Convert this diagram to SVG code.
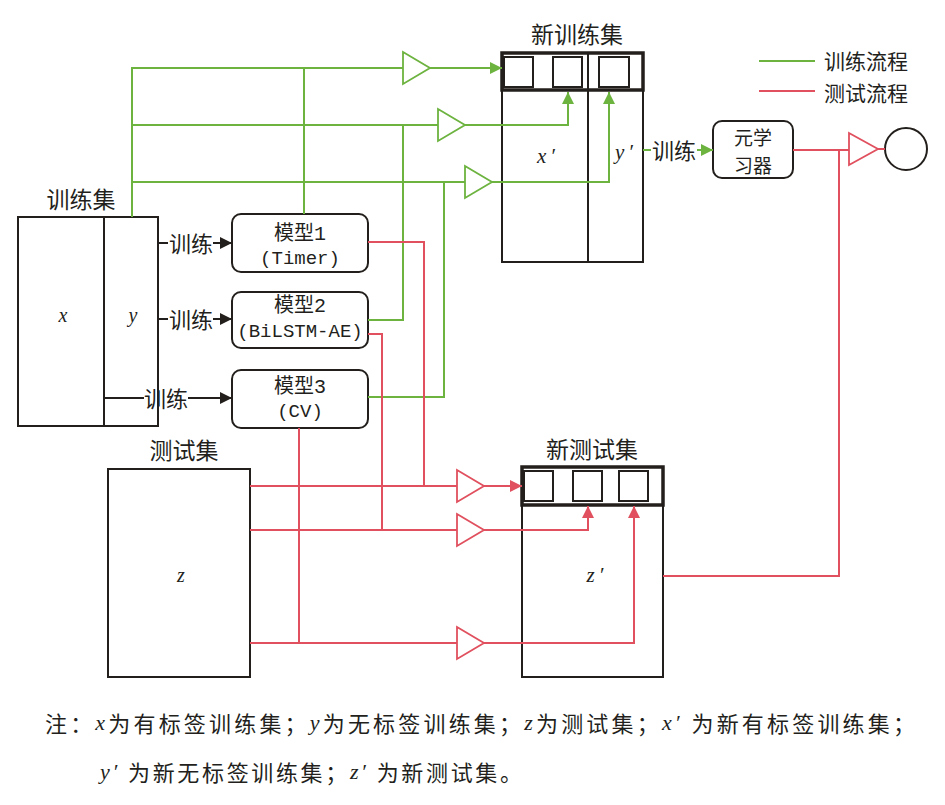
<svg xmlns="http://www.w3.org/2000/svg" width="945" height="805" viewBox="0 0 945 805">
<style>
.box{fill:#fff;stroke:#231f1c;stroke-width:2}
.hdr{fill:none;stroke:#231f1c;stroke-width:3.5}
.sq{fill:#fff;stroke:#231f1c;stroke-width:2}
.g{fill:none;stroke:#6db33f;stroke-width:2}
.r{fill:none;stroke:#e0505e;stroke-width:2}
.k{fill:none;stroke:#231f1c;stroke-width:2}
.tg{fill:#fff;stroke:#6db33f;stroke-width:1.8}
.tr{fill:#fff;stroke:#e0505e;stroke-width:1.8}
.cn{font-family:"Noto Sans CJK SC","Noto Sans",sans-serif;fill:#231f1c;dominant-baseline:central}
.mono{font-family:"Liberation Mono","Noto Sans CJK SC",monospace;fill:#231f1c;dominant-baseline:central}
.it{font-family:"Liberation Serif",serif;font-style:italic;fill:#231f1c;dominant-baseline:central}
</style>
<defs>
<marker id="ag" viewBox="0 0 12 12" refX="12" refY="6" markerWidth="12" markerHeight="12" markerUnits="userSpaceOnUse" orient="auto"><path d="M0,0 L12,6 L0,12 z" fill="#6db33f"/></marker>
<marker id="ar" viewBox="0 0 12 12" refX="12" refY="6" markerWidth="12" markerHeight="12" markerUnits="userSpaceOnUse" orient="auto"><path d="M0,0 L12,6 L0,12 z" fill="#e0505e"/></marker>
<marker id="ak" viewBox="0 0 12 12" refX="12" refY="6" markerWidth="12" markerHeight="12" markerUnits="userSpaceOnUse" orient="auto"><path d="M0,0 L12,6 L0,12 z" fill="#231f1c"/></marker>
</defs>
<rect width="945" height="805" fill="#fff"/>

<g id="train-set">
<text class="cn" x="81" y="198" font-size="23" text-anchor="middle">训练集</text>
<rect class="box" x="18" y="217" width="140" height="209"/>
<line class="k" x1="104" y1="217" x2="104" y2="426"/>
<text class="it" x="63" y="315" font-size="20" text-anchor="middle">x</text>
<text class="it" x="133" y="315" font-size="20" text-anchor="middle">y</text>
</g>

<g id="model1">
<rect class="box" x="232" y="214" width="136" height="58" rx="9"/>
<text class="mono" x="300" y="234" font-size="20" text-anchor="middle">模型1</text>
<text class="mono" x="300" y="259" font-size="19" text-anchor="middle">(Timer)</text>
</g>
<g id="model2">
<rect class="box" x="232" y="292" width="136" height="56" rx="9"/>
<text class="mono" x="300" y="306" font-size="20" text-anchor="middle">模型2</text>
<text class="mono" x="300" y="332" font-size="19" text-anchor="middle">(BiLSTM-AE)</text>
</g>
<g id="model3">
<rect class="box" x="232" y="370" width="136" height="58" rx="9"/>
<text class="mono" x="300" y="387" font-size="20" text-anchor="middle">模型3</text>
<text class="mono" x="300" y="412" font-size="19" text-anchor="middle">(CV)</text>
</g>

<g id="test-set">
<text class="cn" x="184" y="449" font-size="23" text-anchor="middle">测试集</text>
<rect class="box" x="108" y="469" width="142" height="208"/>
<text class="it" x="181" y="575" font-size="20" text-anchor="middle">z</text>
</g>

<g id="new-train-set">
<text class="cn" x="577" y="33" font-size="23" text-anchor="middle">新训练集</text>
<rect class="box" x="502" y="53" width="141" height="209"/>
<line class="k" x1="588" y1="53" x2="588" y2="262"/>
<rect class="sq" x="504" y="57" width="29" height="30"/>
<rect class="sq" x="553" y="57" width="29" height="30"/>
<rect class="sq" x="599" y="57" width="30" height="30"/>
<rect class="hdr" x="502" y="53" width="141" height="37"/>
<text class="it" x="546" y="156" font-size="21" text-anchor="middle">x<tspan dx="4">′</tspan></text>
<text class="it" x="624" y="152" font-size="21" text-anchor="middle">y<tspan dx="4">′</tspan></text>
</g>

<g id="new-test-set">
<text class="cn" x="592" y="448" font-size="23" text-anchor="middle">新测试集</text>
<rect class="box" x="522" y="467" width="141" height="210"/>
<rect class="sq" x="524" y="471" width="29" height="30"/>
<rect class="sq" x="573" y="471" width="29" height="30"/>
<rect class="sq" x="619" y="471" width="29" height="30"/>
<rect class="hdr" x="522" y="467" width="141" height="38"/>
<text class="it" x="595" y="575" font-size="21" text-anchor="middle">z<tspan dx="4">′</tspan></text>
</g>

<g id="meta-learner">
<rect class="box" x="713" y="121" width="80" height="57" rx="9"/>
<text class="cn" x="753" y="136" font-size="19" text-anchor="middle">元学</text>
<text class="cn" x="753" y="164" font-size="19" text-anchor="middle">习器</text>
</g>

<g id="output">
<circle cx="906" cy="149" r="21" fill="#fff" stroke="#231f1c" stroke-width="2"/>
</g>

<g id="legend">
<line class="g" x1="759" y1="61" x2="815" y2="61"/>
<text class="cn" x="824" y="60" font-size="21">训练流程</text>
<line class="r" x1="759" y1="91" x2="815" y2="91"/>
<text class="cn" x="824" y="92" font-size="21">测试流程</text>
</g>

<g id="connectors">
<line class="k" x1="158" y1="243" x2="168" y2="243"/>
<text class="cn" x="191" y="242" font-size="22" text-anchor="middle">训练</text>
<line class="k" x1="213" y1="243" x2="232" y2="243" marker-end="url(#ak)"/>
<line class="k" x1="158" y1="319" x2="168" y2="319"/>
<text class="cn" x="191" y="318" font-size="22" text-anchor="middle">训练</text>
<line class="k" x1="213" y1="319" x2="232" y2="319" marker-end="url(#ak)"/>
<line class="k" x1="104" y1="398" x2="144" y2="398"/>
<text class="cn" x="166" y="397" font-size="22" text-anchor="middle">训练</text>
<line class="k" x1="188" y1="398" x2="232" y2="398" marker-end="url(#ak)"/>

<path class="g" d="M132,217 V68 H403"/>
<line class="g" x1="132" y1="125" x2="438" y2="125"/>
<line class="g" x1="132" y1="182" x2="465" y2="182"/>
<line class="g" x1="304" y1="68" x2="304" y2="214"/>
<path class="g" d="M368,320 H403 V125"/>
<path class="g" d="M368,397 H444 V182"/>
<polygon class="tg" points="403,52 430,68 403,84"/>
<polygon class="tg" points="438,109 465,125 438,141"/>
<polygon class="tg" points="465,166 492,182 465,198"/>
<line class="g" x1="430" y1="68" x2="502" y2="68" marker-end="url(#ag)"/>
<path class="g" d="M465,125 H568 V92" marker-end="url(#ag)"/>
<path class="g" d="M492,182 H609 V92" marker-end="url(#ag)"/>
<line class="g" x1="643" y1="150" x2="651" y2="150"/>
<text class="cn" x="674" y="149" font-size="22" text-anchor="middle">训练</text>
<line class="g" x1="697" y1="150" x2="713" y2="150" marker-end="url(#ag)"/>

<path class="r" d="M368,242 H424 V486"/>
<path class="r" d="M368,334 H382 V530"/>
<line class="r" x1="299" y1="428" x2="299" y2="643"/>
<line class="r" x1="250" y1="486" x2="457" y2="486"/>
<line class="r" x1="250" y1="530" x2="457" y2="530"/>
<line class="r" x1="250" y1="643" x2="457" y2="643"/>
<polygon class="tr" points="457,470 484,486 457,502"/>
<polygon class="tr" points="457,514 484,530 457,546"/>
<polygon class="tr" points="457,627 484,643 457,659"/>
<line class="r" x1="484" y1="486" x2="522" y2="486" marker-end="url(#ar)"/>
<path class="r" d="M484,530 H588 V506" marker-end="url(#ar)"/>
<path class="r" d="M484,643 H634 V506" marker-end="url(#ar)"/>
<path class="r" d="M663,576 H839 V150"/>
<line class="r" x1="793" y1="150" x2="849" y2="150"/>
<polygon class="tr" points="849,133 878,149 849,165"/>
<line class="r" x1="878" y1="149" x2="885" y2="149"/>
</g>

<g id="notes">
<text class="cn" x="45" y="722" font-size="22" textLength="870" lengthAdjust="spacing">注：<tspan class="it">x</tspan>为有标签训练集；<tspan class="it">y</tspan>为无标签训练集；<tspan class="it">z</tspan>为测试集；<tspan class="it">x′ </tspan>为新有标签训练集；</text>
<text class="cn" x="100" y="771" font-size="22" textLength="422" lengthAdjust="spacing"><tspan class="it">y′ </tspan>为新无标签训练集；<tspan class="it">z′ </tspan>为新测试集。</text>
</g>
</svg>
